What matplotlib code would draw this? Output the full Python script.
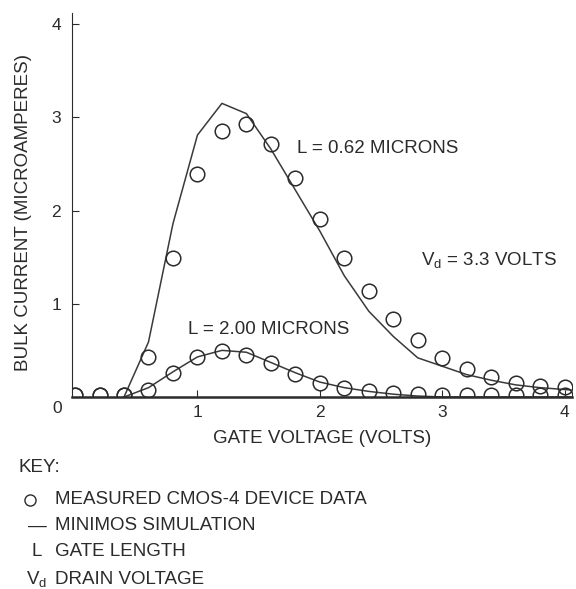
import matplotlib
matplotlib.use("Agg")
import matplotlib.pyplot as plt
from matplotlib.lines import Line2D

plt.rcParams['font.family'] = ['Liberation Sans', 'DejaVu Sans']
plt.rcParams['mathtext.default'] = 'regular'

# gate voltage grid for measured points
vg_meas = [0.0, 0.2, 0.4, 0.6, 0.8, 1.0, 1.2, 1.4, 1.6, 1.8, 2.0,
           2.2, 2.4, 2.6, 2.8, 3.0, 3.2, 3.4, 3.6, 3.8, 4.0]
meas_062 = [0.02, 0.02, 0.02, 0.43, 1.49, 2.39, 2.85, 2.93, 2.71, 2.35, 1.91,
            1.49, 1.14, 0.84, 0.61, 0.42, 0.30, 0.21, 0.15, 0.12, 0.11]
meas_200 = [0.02, 0.02, 0.02, 0.07, 0.26, 0.43, 0.49, 0.45, 0.36, 0.25, 0.15,
            0.10, 0.06, 0.04, 0.03, 0.02, 0.02, 0.02, 0.02, 0.02, 0.02]

# MINIMOS simulation curves
vg_sim = [0.4, 0.6, 0.8, 1.0, 1.2, 1.4, 1.6, 1.8, 2.0, 2.2, 2.4,
          2.6, 2.8, 3.0, 3.2, 3.4, 3.6, 3.8, 4.0, 4.05]
sim_062 = [0.0, 0.59, 1.86, 2.81, 3.15, 3.04, 2.66, 2.22, 1.78, 1.30, 0.92,
           0.65, 0.42, 0.33, 0.24, 0.18, 0.13, 0.10, 0.08, 0.075]
sim_200 = [0.0, 0.10, 0.27, 0.43, 0.50, 0.48, 0.37, 0.26, 0.16, 0.10, 0.06,
           0.03, 0.01, 0.0, 0.0, 0.0, 0.0, 0.0, 0.0, 0.0]

ink = '#2b2b2b'
fs = 13.5

fig = plt.figure(figsize=(5.76, 5.89), dpi=100)
ax = fig.add_axes([0.125, 0.326, 0.868, 0.652])

ax.plot(vg_sim, sim_062, color='#3a3a3a', lw=1.1)
ax.plot(vg_sim, sim_200, color='#3a3a3a', lw=1.1)
ax.plot(vg_meas, meas_062, 'o', ms=10.5, mfc='none', mec=ink, mew=1.1)
ax.plot(vg_meas, meas_200, 'o', ms=10.5, mfc='none', mec=ink, mew=1.1)

ax.set_xlim(-0.025, 4.06)
ax.set_ylim(0, 4.12)
ax.spines['top'].set_visible(False)
ax.spines['right'].set_visible(False)
ax.spines['left'].set_color(ink)
ax.spines['bottom'].set_color(ink)
ax.spines['bottom'].set_linewidth(1.8)
ax.set_xticks([1, 2, 3, 4])
ax.set_yticks([1, 2, 3, 4])
ax.tick_params(direction='in', length=5, colors=ink, labelsize=12.5)
ax.tick_params(axis='y', pad=8)
ax.tick_params(axis='x', pad=6)
ax.text(-0.15, -0.04, '0', transform=ax.transData, ha='center', va='top',
        fontsize=12.5, color=ink)

ax.set_ylabel('BULK CURRENT (MICROAMPERES)', fontsize=fs, color=ink)
ax.set_xlabel('GATE VOLTAGE (VOLTS)', fontsize=fs, color=ink)
ax.yaxis.set_label_coords(-0.08, 0.48)
ax.xaxis.set_label_coords(0.5, -0.085)

ax.text(1.81, 2.67, 'L = 0.62 MICRONS', fontsize=fs, color=ink, va='center')
ax.text(0.92, 0.72, 'L = 2.00 MICRONS', fontsize=fs, color=ink, va='center')
ax.text(2.83, 1.47, r'V$_d$ = 3.3 VOLTS', fontsize=fs, color=ink, va='center')

# key below the chart
key_x = 55 / 576
fig.text(18 / 576, 1 - 468 / 589, 'KEY:', fontsize=fs, color=ink, va='center')
rows = [('', 'MEASURED CMOS-4 DEVICE DATA', 500),
        ('—', 'MINIMOS SIMULATION', 526),
        ('L', 'GATE LENGTH', 552),
        (r'V$_d$', 'DRAIN VOLTAGE', 579)]
for sym, label, py in rows:
    if sym:
        fig.text(37 / 576, 1 - py / 589, sym, fontsize=fs, color=ink,
                 va='center', ha='center')
    fig.text(key_x, 1 - py / 589, label, fontsize=fs, color=ink, va='center')
fig.add_artist(Line2D([30 / 576], [1 - 500 / 589], marker='o', ms=8,
                      mfc='none', mec=ink, mew=1.0, transform=fig.transFigure))

fig.savefig('out.png', dpi=100)
